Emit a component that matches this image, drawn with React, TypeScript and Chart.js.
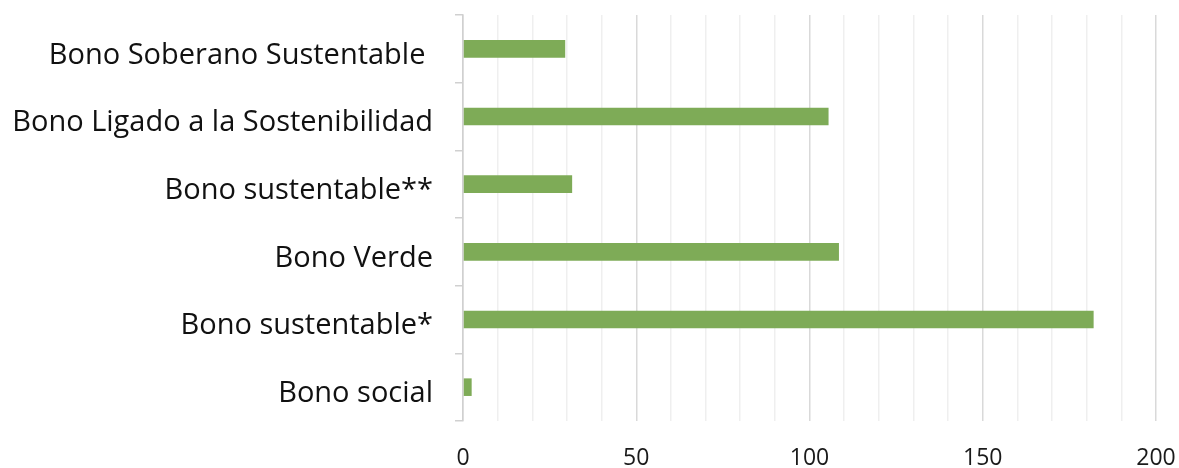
import React, { useEffect, useRef } from "react";
import { Chart, registerables } from "chart.js";

Chart.register(...registerables);

const categories = [
  "Bono Soberano Sustentable ",
  "Bono Ligado a la Sostenibilidad",
  "Bono sustentable**",
  "Bono Verde",
  "Bono sustentable*",
  "Bono social",
];
const values = [29.5, 105.5, 31.5, 108.5, 182, 2.5];
const xMin = 0;
const xMax = 200;
const xStep = 10;
const labelStep = 50;

export default function App() {
  const ref = useRef<HTMLCanvasElement | null>(null);
  useEffect(() => {
    document.body.style.margin = "0";
    const canvas = ref.current;
    if (!canvas) return;
    const chart = new Chart(canvas, {
      type: "bar",
      data: {
        labels: categories,
        datasets: [
          {
            data: values,
            backgroundColor: "#7eab57",
            borderWidth: 0,
            barPercentage: 0.52,
            categoryPercentage: 0.5,
          },
        ],
      },
      options: {
        indexAxis: "y",
        animation: false,
        responsive: false,
        maintainAspectRatio: false,
        layout: { padding: { top: 15, right: 23, left: 0, bottom: 0 } },
        plugins: { legend: { display: false }, tooltip: { enabled: false } },
        scales: {
          x: {
            type: "linear",
            min: xMin,
            max: xMax,
            afterFit: (s: any) => {
              s.height = 47;
              s.paddingLeft = 0;
              s.paddingRight = 0;
            },
            border: { display: false },
            grid: {
              color: (ctx: any) =>
                ctx.tick && ctx.tick.value % labelStep === 0 ? "#d9d9d9" : "#efefef",
              lineWidth: 1.5,
              drawTicks: false,
            },
            ticks: {
              stepSize: xStep,
              autoSkip: false,
              maxRotation: 0,
              padding: 24,
              color: "#1a1a1a",
              font: { family: "Open Sans", size: 23 },
              callback: (v: any) => (Number(v) % labelStep === 0 ? String(v) : ""),
            },
          },
          y: {
            afterFit: (s: any) => {
              s.width = 463;
              s.paddingTop = 0;
              s.paddingBottom = 0;
            },
            border: { display: true, color: "#d0d0d0", width: 1.5 },
            grid: {
              drawOnChartArea: false,
              drawTicks: true,
              tickLength: 8,
              color: "#d0d0d0",
              lineWidth: 1.5,
            },
            ticks: {
              padding: 22,
              color: "#111111",
              font: { family: "Open Sans", size: 29, lineHeight: "13px" },
              callback: (_v: any, i: number) => ["", categories[i]],
            },
          },
        },
      },
    });
    return () => chart.destroy();
  }, []);
  return (
    <div style={{ position: "absolute", left: 0, top: 0, width: 1179, height: 468 }}>
      <canvas ref={ref} width={1179} height={468} style={{ width: 1179, height: 468 }} />
    </div>
  );
}
